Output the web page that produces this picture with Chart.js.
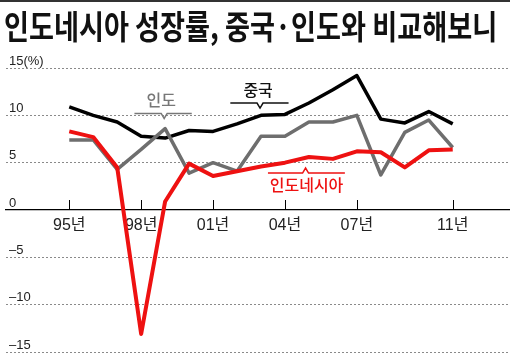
<!DOCTYPE html>
<html>
<head>
<meta charset="utf-8">
<script src="https://cdn.jsdelivr.net/npm/chart.js@4"></script>
<style>
  body { margin: 0; background: #fff; }
  #wrap { position: relative; width: 510px; height: 353px; overflow: hidden; }
  #topline { position: absolute; left: 0; top: 0; width: 510px; height: 2px; background: #333; }
  #title { position: absolute; left: 4px; top: 9px; font: 700 33px/1 "Noto Sans CJK KR", sans-serif; color: #111; white-space: nowrap; transform-origin: 0 0; }
  canvas { position: absolute; left: 0; top: 0; }
</style>
</head>
<body>
<div id="wrap">
  <canvas id="lineChart" width="510" height="353"></canvas>
  <div id="topline"></div>
  <div id="title">인도네시아 성장률, 중국·인도와 비교해보니</div>
</div>
<script>
const years = [1995, 1996, 1997, 1998, 1999, 2000, 2001, 2002, 2003, 2004, 2005, 2006, 2007, 2008, 2009, 2010, 2011]
const china = [10.9, 10.0, 9.3, 7.8, 7.6, 8.4, 8.3, 9.1, 10.0, 10.1, 11.3, 12.7, 14.2, 9.6, 9.2, 10.4, 9.1]
const india = [7.4, 7.4, 4.3, 6.4, 8.6, 3.9, 5.0, 4.1, 7.8, 7.8, 9.3, 9.3, 10.0, 3.7, 8.2, 9.5, 6.6]
const indonesia = [8.3, 7.7, 4.5, -13.1, 0.9, 4.9, 3.6, 4.1, 4.6, 5.0, 5.6, 5.4, 6.2, 6.1, 4.5, 6.3, 6.4]
const tickYears = [1995, 1998, 2001, 2004, 2007, 2011]
const yTicks = [-15, -10, -5, 0, 5, 10, 15]

// fit title width
const title = document.querySelector('#title')
title.style.transform = 'scaleX(' + (493 / title.offsetWidth) + ')'

const toPoints = (arr) => arr.map((v, i) => ({x: years[i], y: v}))

// labels with bracket: [text, color, textX, textY, left, right, notchX, bracketY, notchDir]
const notes = [
    ['인도', '#777', 1998.84, 11.6, 1997.72, 2000.11, 1998.96, 10.2, 1],
    ['중국', '#111', 2002.88, 12.7, 2001.72, 2004.15, 2002.96, 11.3, 1],
    ['인도네시아', '#ee1111', 2004.9, 2.6, 2003.29, 2006.5, 2004.86, 3.9, -1],
]

const annot = {
    id: 'annot',
    afterDatasetsDraw(chart) {
        const c = chart.ctx
        const xs = chart.scales.x
        const ys = chart.scales.y
        const y0 = ys.getPixelForValue(0)
        c.save()
        // tick marks pointing up from zero line
        c.strokeStyle = '#000'
        c.lineWidth = 1
        tickYears.forEach(t => {
            const px = Math.round(xs.getPixelForValue(t)) + 0.5
            c.beginPath()
            c.moveTo(px, y0 - 10)
            c.lineTo(px, y0)
            c.stroke()
        })
        notes.forEach(n => {
            const by = ys.getPixelForValue(n[7])
            const nx = xs.getPixelForValue(n[6])
            c.strokeStyle = n[1]
            c.lineWidth = 1.5
            c.beginPath()
            c.moveTo(xs.getPixelForValue(n[4]), by)
            c.lineTo(nx - 3, by)
            c.lineTo(nx, by + 5 * n[8])
            c.lineTo(nx + 3, by)
            c.lineTo(xs.getPixelForValue(n[5]), by)
            c.stroke()
            c.fillStyle = n[1]
            c.font = '500 16px "Noto Sans CJK KR", sans-serif'
            c.textAlign = 'center'
            c.textBaseline = 'middle'
            c.fillText(n[0], xs.getPixelForValue(n[2]), ys.getPixelForValue(n[3]))
        })
        c.restore()
    }
}

const line = document.querySelector('#lineChart')
new Chart(line, {
    type: 'line',
    data: {
        datasets: [
        {
            label: '인도네시아',
            data: toPoints(indonesia),
            borderColor: '#ee1111',
            borderWidth: 4,
            order: 1,
        },
        {
            label: '인도',
            data: toPoints(india),
            borderColor: '#6e6e6e',
            borderWidth: 3.5,
            order: 2,
        },
        {
            label: '중국',
            data: toPoints(china),
            borderColor: '#000',
            borderWidth: 3.5,
            order: 3,
        }
        ]
    },
    options: {
        responsive: false,
        animation: false,
        layout: { padding: { top: 68, bottom: 1, left: 0, right: 0 } },
        elements: {
            point: { radius: 0 },
            line: { tension: 0, borderJoinStyle: 'round', borderCapStyle: 'butt' }
        },
        plugins: { legend: { display: false }, tooltip: { enabled: false } },
        scales: {
            x: {
                type: 'linear',
                position: { y: 0 },
                min: 1992.36,
                max: 2013.39,
                afterBuildTicks: (s) => { s.ticks = tickYears.map(v => ({value: v})) },
                grid: { display: false, drawTicks: false },
                border: { display: true, color: '#000', width: 1.3 },
                ticks: {
                    autoSkip: false,
                    maxRotation: 0,
                    padding: 6,
                    color: '#222',
                    font: { size: 16, family: '"Liberation Sans", "Noto Sans CJK KR", sans-serif' },
                    callback: (v) => String(v).slice(2) + '년'
                }
            },
            y: {
                min: -15,
                max: 15,
                afterBuildTicks: (s) => { s.ticks = yTicks.map(v => ({value: v})) },
                afterFit: (s) => { s.paddingTop = 0; s.paddingBottom = 0 },
                grid: {
                    drawTicks: false,
                    color: (ctx) => ctx.tick && ctx.tick.value === 0 ? 'rgba(0,0,0,0)' : '#8a8a8a',
                    lineWidth: 1
                },
                border: { display: false, dash: [2, 2] },
                ticks: {
                    mirror: true,
                    padding: 3,
                    labelOffset: -7,
                    color: '#222',
                    font: { size: 13, family: '"Liberation Sans", "Noto Sans CJK KR", sans-serif' },
                    callback: (v) => v === 15 ? '15(%)' : (v < 0 ? '–' + Math.abs(v) : String(v))
                }
            }
        }
    },
    plugins: [annot]
})
</script>
</body>
</html>
